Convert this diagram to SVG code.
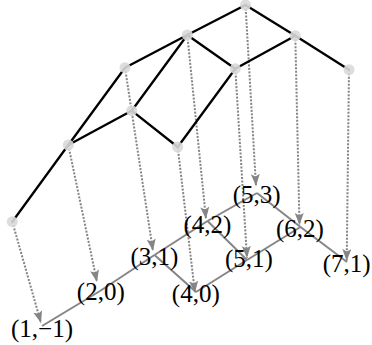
<svg xmlns="http://www.w3.org/2000/svg" width="372" height="345" viewBox="0 0 372 345">
<style>
.proj{stroke:#858585;stroke-width:2;stroke-dasharray:2 1.5;fill:none}
.edge{stroke:#000;stroke-width:2.3;fill:none;stroke-linecap:round}
.low{stroke:#858585;stroke-width:2;fill:none}
.node{fill:#d9d9d9;fill-opacity:0.9}
.lbl{font-family:"Liberation Serif","Times New Roman",serif;font-size:25px;fill:#000;text-anchor:middle}
</style>
<defs>
<marker id="ah" markerUnits="userSpaceOnUse" markerWidth="14" markerHeight="10" refX="12" refY="4.5" orient="auto">
<path d="M0,0 L12,4.5 L0,9 L2.5,4.5 z" fill="#858585"/>
</marker>
</defs>
<g id="connectors">
<g id="lower-edges">
<line class="low" x1="42" y1="326" x2="100" y2="291"/>
<line class="low" x1="100" y1="291" x2="154.5" y2="255"/>
<line class="low" x1="154.5" y1="255" x2="207.5" y2="221"/>
<line class="low" x1="207.5" y1="221" x2="257" y2="193"/>
<line class="low" x1="154.5" y1="255" x2="196" y2="292"/>
<line class="low" x1="207.5" y1="221" x2="247" y2="260"/>
<line class="low" x1="257" y1="193" x2="300.5" y2="227"/>
<line class="low" x1="196" y1="292" x2="247" y2="260"/>
<line class="low" x1="247" y1="260" x2="300.5" y2="227"/>
<line class="low" x1="300.5" y1="227" x2="347" y2="262"/>
</g>
<g id="projections">
<line class="proj" x1="12.3" y1="221.7" x2="41" y2="323" marker-end="url(#ah)"/>
<line class="proj" x1="68.3" y1="145" x2="97" y2="282" marker-end="url(#ah)"/>
<line class="proj" x1="125" y1="67.7" x2="153" y2="251" marker-end="url(#ah)"/>
<line class="proj" x1="177.7" y1="147" x2="195" y2="293" marker-end="url(#ah)"/>
<line class="proj" x1="187.3" y1="35" x2="206" y2="219" marker-end="url(#ah)"/>
<line class="proj" x1="245.5" y1="5" x2="256" y2="186" marker-end="url(#ah)"/>
<line class="proj" x1="235.3" y1="68.7" x2="247" y2="258" marker-end="url(#ah)"/>
<line class="proj" x1="295.3" y1="35.7" x2="299.5" y2="225" marker-end="url(#ah)"/>
<line class="proj" x1="349" y1="69.7" x2="346.7" y2="261" marker-end="url(#ah)"/>
</g>
<g id="upper-edges">
<line class="edge" x1="245.5" y1="5" x2="187.3" y2="35"/>
<line class="edge" x1="245.5" y1="5" x2="295.3" y2="35.7"/>
<line class="edge" x1="187.3" y1="35" x2="125" y2="67.7"/>
<line class="edge" x1="187.3" y1="35" x2="131.7" y2="110.7"/>
<line class="edge" x1="187.3" y1="35" x2="235.3" y2="68.7"/>
<line class="edge" x1="295.3" y1="35.7" x2="235.3" y2="68.7"/>
<line class="edge" x1="295.3" y1="35.7" x2="349" y2="69.7"/>
<line class="edge" x1="125" y1="67.7" x2="68.3" y2="145"/>
<line class="edge" x1="131.7" y1="110.7" x2="68.3" y2="145"/>
<line class="edge" x1="131.7" y1="110.7" x2="177.7" y2="147"/>
<line class="edge" x1="235.3" y1="68.7" x2="177.7" y2="147"/>
<line class="edge" x1="68.3" y1="145" x2="12.3" y2="221.7"/>
</g>
</g>
<g id="upper-nodes">
<circle id="u-top" class="node" cx="245.5" cy="5" r="5.5"/>
<circle id="u-a" class="node" cx="187.3" cy="35" r="5.5"/>
<circle id="u-b" class="node" cx="295.3" cy="35.7" r="5.5"/>
<circle id="u-c" class="node" cx="125" cy="67.7" r="5.5"/>
<circle id="u-d" class="node" cx="235.3" cy="68.7" r="5.5"/>
<circle id="u-e" class="node" cx="349" cy="69.7" r="5.5"/>
<circle id="u-f" class="node" cx="131.7" cy="110.7" r="5.5"/>
<circle id="u-g" class="node" cx="68.3" cy="145" r="5.5"/>
<circle id="u-h" class="node" cx="177.7" cy="147" r="5.5"/>
<circle id="u-i" class="node" cx="12.3" cy="221.7" r="5.5"/>
</g>
<g id="lower-nodes">
<text id="l-1m1" class="lbl" x="42" y="337">(1,−1)</text>
<text id="l-20" class="lbl" x="100.8" y="300">(2,0)</text>
<text id="l-31" class="lbl" x="154.5" y="265">(3,1)</text>
<text id="l-40" class="lbl" x="195.8" y="301.7">(4,0)</text>
<text id="l-42" class="lbl" x="207.5" y="233.3">(4,2)</text>
<text id="l-53" class="lbl" x="256.7" y="203.3">(5,3)</text>
<text id="l-51" class="lbl" x="249" y="266.7">(5,1)</text>
<text id="l-62" class="lbl" x="300" y="236.7">(6,2)</text>
<text id="l-71" class="lbl" x="346.7" y="271.7">(7,1)</text>
</g>
</svg>
